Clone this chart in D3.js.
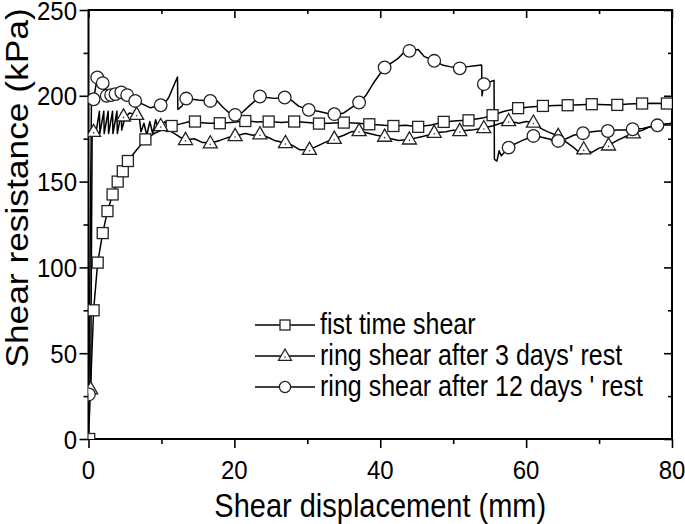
<!DOCTYPE html>
<html><head><meta charset="utf-8">
<script src="https://cdn.jsdelivr.net/npm/d3@7"></script>
<style>
body{margin:0;background:#fff}
svg{display:block}
text{font-family:"Liberation Sans",Arial,sans-serif;fill:#000}
</style>
</head><body>
<svg id="c" width="685" height="524"></svg>
<script>
// ---------- data ----------
const xTicks = [0, 20, 40, 60, 80];
const xMinor = [10, 30, 50, 70];
const yTicks = [0, 50, 100, 150, 200, 250];
const yMinor = [25, 75, 125, 175, 225];
const seriesNames = ["fist time shear", "ring shear after 3 days' rest", "ring shear after 12 days ' rest"];
const xTitle = "Shear displacement (mm)";
const yTitle = "Shear resistance (kPa)";

// first time shear: trace and square markers  [displacement mm, resistance kPa]
const sqLine = [[0,0],[0.7,75],[1.26,102.8],[1.95,120],[2.6,132.8],[3.3,142.5],[4.0,150],[4.7,156],[5.4,162],[6.5,168],[7.8,174.6],[9,178],[10,180],[11.4,182.4],[12.5,183.5],[13.9,185],[15,184.5],[16.5,184],[18,184],[19.5,184.5],[21.5,185.3],[23,184.8],[24.7,185],[26.5,184.5],[28.2,185],[30,184.5],[31.6,183.8],[33,184],[35,184.4],[37,184],[38.5,183.4],[40,183],[41.8,182.4],[43.5,182.8],[45.2,181.9],[47,183],[48.7,184.8],[50.5,185.5],[52.1,185.7],[54,187],[55.4,188.7],[57,191],[58.9,192.8],[60.5,193.5],[62.3,194.1],[64,194.3],[65.7,194.5],[67.5,194.8],[69,195.1],[71,194.8],[72.5,194.7],[74,195.2],[75.9,195.5],[77.5,195.6],[79.3,195.5],[80,196]];
const sqMarks = [[0.1,0],[0.7,75],[1.26,102.8],[1.95,120],[2.6,132.8],[3.3,142.5],[4.0,150],[4.7,156],[5.4,162],[7.8,174.6],[11.4,182.4],[14.6,185],[18,184],[21.5,185.3],[24.7,185],[28.2,185],[31.6,183.8],[35,184.4],[38.5,183.4],[41.8,182.4],[45.2,181.9],[48.7,184.8],[52.1,185.7],[55.4,188.7],[58.9,192.8],[62.3,194.1],[65.7,194.5],[69,195.1],[72.5,194.7],[75.9,195.5],[79.3,195.5]];

// ring shear after 3 days' rest: trace and triangle markers
const triLine = [[0.3,29],[0.5,179],[0.7,179],[1.0,178],[1.5,191],[1.55,178],[2.1,191],[2.15,178],[2.7,191],[2.75,178],[3.3,191],[3.35,178],[3.9,191],[3.95,178],[4.5,190],[4.55,180],[5.0,187],[5.6,190],[6.6,189],[7.0,186],[7.2,179],[7.6,184],[8.0,177],[8.4,185],[8.8,178],[9.2,186],[9.6,180],[9.9,182.4],[10.5,185],[11.0,180],[11.8,178],[12.5,176],[13.3,174.3],[14.5,175],[15.5,173],[16.7,172.3],[18,174],[19,175.5],[20.1,176.6],[21.5,178],[22.5,177],[23.5,177.6],[24.5,176],[25.5,174],[27,172.5],[28,171],[29,168.5],[30.3,168.6],[31.5,171],[32.5,173],[33.7,175],[35,177],[36,179],[37.1,179.5],[38.5,178],[39.5,177],[40.6,176.2],[41.5,175],[42.5,174],[44,174.6],[45.5,176],[46.5,177],[47.4,178.5],[49,179],[50,180],[50.9,179.5],[52.5,180],[54.2,181.2],[55.5,182.5],[56.5,184],[57.6,185.3],[59,184],[60,185],[61,184.4],[62,181],[63,179],[64.4,176.6],[65.5,173],[66.5,170],[67.5,166],[67.9,168.8],[69,167],[70,169.5],[71.3,171.1],[72.5,174],[73.5,176],[74.7,178.2],[76,180],[77,182],[78,183],[79,183.5],[80,184]];
const triMarks = [[0.3,29],[0.7,179],[4.8,188],[6.6,189],[9.9,182.4],[13.3,174.3],[16.7,172.3],[20.1,176.6],[23.5,177.6],[27,172.5],[30.3,168.6],[33.7,175],[37.1,179.5],[40.6,176.2],[44,174.6],[47.4,178.5],[50.9,179.5],[54.2,181.2],[57.6,185.3],[61,184.4],[64.4,176.6],[67.9,168.8],[71.3,171.1],[74.7,178.2]];

// ring shear after 12 days ' rest: trace and circle markers
const cirLine = [[0.05,26],[0.4,195],[0.7,198],[1.2,210.7],[1.95,207.4],[2.5,200],[3.1,200.4],[3.7,201],[4.5,202],[5.3,200.4],[6.4,197],[7.5,195],[8.5,193],[9.9,194.5],[10.5,196],[11,199],[11.4,203],[11.8,207],[12.2,211],[12.25,192],[12.8,194],[13.4,198.4],[15,197.5],[16.7,197],[17.5,197.5],[18.5,193],[19.3,190],[20.1,188.9],[21,190],[22,194],[23.5,199.6],[24.5,199],[25.5,198.5],[26.9,199],[27.8,197.5],[28.8,194],[30.2,191.8],[31.5,191],[32.5,190],[33.7,188.9],[35,190],[36,193],[37.1,196.1],[38,200],[39,207],[40,213],[40.6,216.5],[41.5,219],[42.5,222],[43.2,225],[44,226.2],[45.2,227],[46,223],[47.4,220.4],[48.5,218],[49.5,217],[50.9,216],[52,217],[53,217.5],[53.9,218],[53.95,200],[54.2,206.8],[55,208],[55.6,209],[55.65,163],[56,162],[56.3,168],[56.6,165],[57.6,169.8],[58.5,172],[59.5,174],[61,176.6],[62,176],[63,175],[64.4,173.7],[65.5,175],[66.5,177],[67.8,178.2],[69,179],[70,179.5],[71.2,179.5],[72.5,180],[73.5,180],[74.6,180.5],[76,181],[77,182],[78,182.8],[79,183],[80,183]];
const cirMarks = [[0.05,26],[0.7,198],[1.2,210.7],[1.95,207.4],[2.5,200],[3.1,200.4],[3.7,201],[4.5,202],[5.3,200.4],[6.4,197],[9.9,194.5],[13.4,198.4],[16.7,197],[20.1,188.9],[23.5,199.6],[26.9,199],[30.2,191.8],[33.7,189.3],[37.1,196.1],[40.6,216.5],[44,226.2],[47.4,220.4],[50.9,216],[54.2,206.8],[57.6,169.8],[61,176.6],[64.4,173.7],[67.8,178.2],[71.2,179.5],[74.6,180.5],[78,182.8]];

// ---------- drawing ----------
const m = {l: 88.5, r: 672, t: 10, b: 439};
const x = d3.scaleLinear().domain([0, 80]).range([m.l, m.r]);
const y = d3.scaleLinear().domain([0, 250]).range([m.b, m.t]);
const svg = d3.select("#c");

svg.append("defs").append("clipPath").attr("id", "clip")
  .append("rect").attr("x", m.l).attr("y", m.t).attr("width", m.r - m.l).attr("height", m.b - m.t);

// ticks
function ticks(axis, tr, vals, size) {
  const g = svg.append("g").attr("transform", tr)
    .call(axis.tickValues(vals).tickSize(size).tickFormat(""));
  g.select(".domain").remove();
  g.selectAll("line").attr("stroke", "#000").attr("stroke-width", 1.6);
}
ticks(d3.axisBottom(x), `translate(0,${m.b})`, xTicks, 9);
ticks(d3.axisBottom(x), `translate(0,${m.b})`, xMinor, 5);
ticks(d3.axisLeft(y), `translate(${m.l},0)`, yTicks, 9);
ticks(d3.axisLeft(y), `translate(${m.l},0)`, yMinor, 5);
ticks(d3.axisTop(x), `translate(0,${m.t})`, xTicks, -8);
ticks(d3.axisTop(x), `translate(0,${m.t})`, xMinor, -4);
ticks(d3.axisRight(y), `translate(${m.r},0)`, yTicks, -8);
ticks(d3.axisRight(y), `translate(${m.r},0)`, yMinor, -4);

// frame
svg.append("rect").attr("x", m.l).attr("y", m.t).attr("width", m.r - m.l).attr("height", m.b - m.t)
  .attr("fill", "none").attr("stroke", "#000").attr("stroke-width", 2);

// tick labels
const SY = 1.1;
xTicks.forEach(t => {
  svg.append("text").attr("transform", `translate(${x(t)},479) scale(1,${SY})`)
    .attr("text-anchor", "middle").attr("font-size", 24).text(t);
});
yTicks.forEach(t => {
  svg.append("text").attr("transform", `translate(77,${y(t) + 9.5}) scale(1,${SY})`)
    .attr("text-anchor", "end").attr("font-size", 24).text(t);
});

// axis titles
svg.append("text").attr("transform", `translate(${(m.l + m.r) / 2},517) scale(1,1.12)`)
  .attr("text-anchor", "middle").attr("font-size", 29).text(xTitle);
svg.append("text").attr("transform", `translate(28,188) scale(1,1.14) rotate(-90)`)
  .attr("text-anchor", "middle").attr("font-size", 31).text(yTitle);

// series
const line = d3.line().x(d => x(d[0])).y(d => y(d[1]));
const plot = svg.append("g").attr("clip-path", "url(#clip)");
[sqLine, triLine, cirLine].forEach(s => {
  plot.append("path").datum(s).attr("d", line)
    .attr("fill", "none").attr("stroke", "#000").attr("stroke-width", 1.5).attr("stroke-linejoin", "round");
});

const MS = "#222", MW = 1.3;
function square(g, cx, cy, s) {
  g.append("rect").attr("x", cx - s / 2).attr("y", cy - s / 2).attr("width", s).attr("height", s)
    .attr("fill", "#fff").attr("stroke", MS).attr("stroke-width", MW);
}
function tri(g, cx, cy, s) {
  const h = s * 0.87;
  g.append("path").attr("d", `M${cx},${cy - h * 0.62}L${cx + s / 2},${cy + h * 0.38}L${cx - s / 2},${cy + h * 0.38}Z`)
    .attr("fill", "#fff").attr("stroke", MS).attr("stroke-width", MW);
  g.append("circle").attr("cx", cx).attr("cy", cy + 1).attr("r", 0.8).attr("fill", "#333");
}
function circ(g, cx, cy, r) {
  g.append("circle").attr("cx", cx).attr("cy", cy).attr("r", r)
    .attr("fill", "#fff").attr("stroke", MS).attr("stroke-width", MW);
}
sqMarks.forEach(d => square(plot, x(d[0]), y(d[1]), 11));
triMarks.forEach(d => tri(plot, x(d[0]), y(d[1]), 14));
cirMarks.forEach(d => circ(plot, x(d[0]), y(d[1]), 6.3));

// legend
const legRows = [325, 356, 387];
const legG = svg.append("g");
seriesNames.forEach((name, i) => {
  const ry = legRows[i];
  legG.append("line").attr("x1", 255).attr("x2", 315).attr("y1", ry).attr("y2", ry)
    .attr("stroke", "#000").attr("stroke-width", 1.5);
  if (i === 0) square(legG, 285, ry, 10);
  if (i === 1) tri(legG, 285, ry, 13);
  if (i === 2) circ(legG, 285, ry, 5.6);
  legG.append("text").attr("transform", `translate(320,${ry + 9}) scale(1,1.15)`)
    .attr("font-size", 25).text(name);
});
</script>
</body></html>
